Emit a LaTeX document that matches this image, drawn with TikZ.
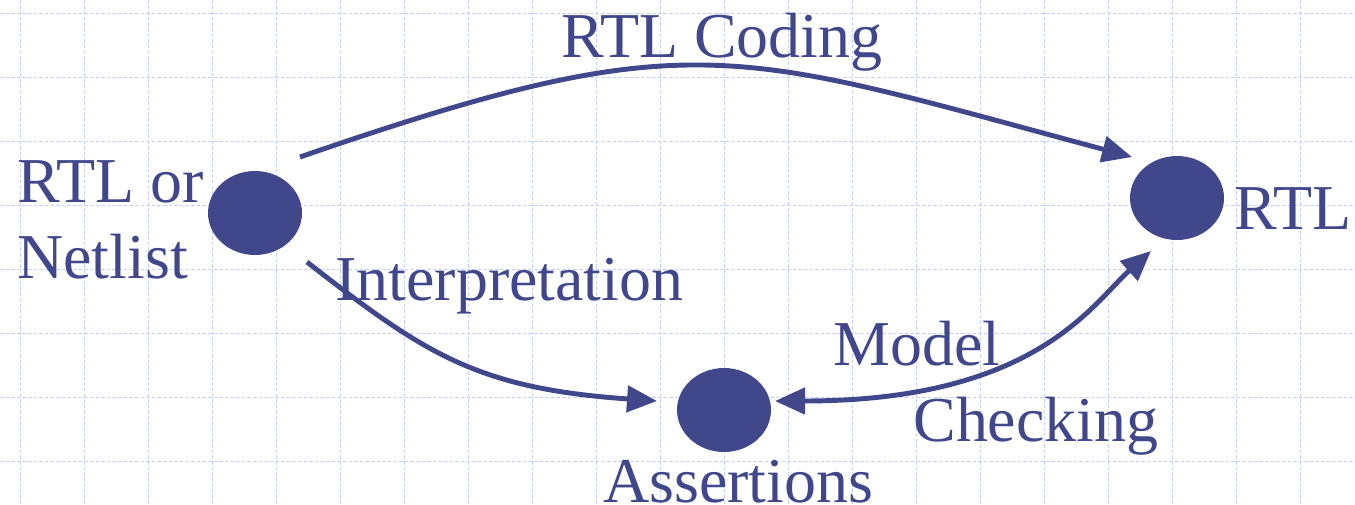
\documentclass[tikz,border=0pt]{standalone}
\usepackage{fontspec}
\setmainfont{Liberation Serif}
\usetikzlibrary{shapes.geometric,arrows.meta}
\definecolor{ink}{RGB}{65,71,139}
\definecolor{gridblue}{RGB}{196,208,252}
\begin{document}
\begin{tikzpicture}[x=0.02cm,y=0.02cm,
	head/.tip={Triangle[length=0.6cm,width=0.52cm]},
	dot/.style={ellipse,fill=ink,minimum width=1.88cm,minimum height=1.68cm,inner sep=0pt},
	lbl/.style={text=ink,font=\fontsize{36.4}{43}\selectfont,inner sep=0pt,anchor=base west},
	arr/.style={draw=ink,line width=2.8pt,-head},
	gridline/.style={gridblue,line width=0.5pt,dash pattern=on 2pt off 1.2pt}]
	\useasboundingbox (0,0) rectangle (1355,-504);
	\clip (0,0) rectangle (1355,-504);
	
	%Lưới nền
	\foreach \i in {0,...,20}
		\draw[gridline] (20+64*\i,0)--(20+64*\i,-504);
	\foreach \j in {0,...,7}
		\draw[gridline] (0,-13-64*\j)--(1355,-13-64*\j);
	
	%Các nút
	\node[dot] (netlist) at (255,-213) {};
	\node[dot] (rtl) at (1177,-198) {};
	\node[dot] (assert) at (724,-410) {};
	
	%Nhãn
	\node[lbl] (lrtlor) at (17,-202) {RTL or};
	\node[lbl] (lnetlist) at (17,-278) {Netlist};
	\node[lbl] (lrtl) at (1234,-229) {RTL};
	\node[lbl] (lassert) at (603,-502) {Assertions};
	\node[lbl] (lcoding) at (561,-57) {RTL Coding};
	\node[lbl] (linterp) at (335,-300) {Interpretation};
	\node[lbl] (lmodel) at (833,-365) {Model};
	\node[lbl] (lcheck) at (913,-441) {Checking};
	
	%---------------mũi tên
	\draw[arr] ([shift={(45,56)}]netlist.center)
		.. controls +(19:415) and +(165:415) .. ([shift={(-45,41)}]rtl.center);
	\draw[arr] ([shift={(52,-49)}]netlist.center)
		.. controls +(-38:150) and +(176:180) .. ([shift={(-67,9)}]assert.center);
	\draw[arr,head-head] ([shift={(51,9)}]assert.center)
		.. controls +(0:260) and +(-138:80) .. ([shift={(-26,-53)}]rtl.center);
\end{tikzpicture}
\end{document}
